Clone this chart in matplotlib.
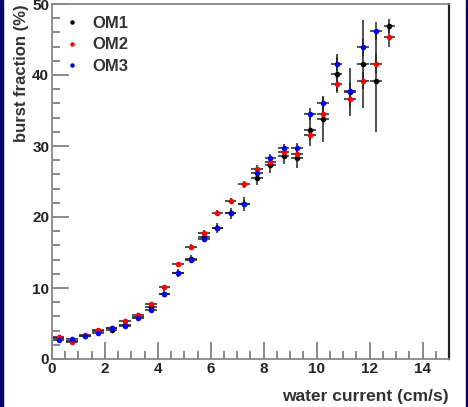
import numpy as np
import matplotlib
matplotlib.use('Agg')
import matplotlib.pyplot as plt
from matplotlib.patches import Rectangle
from matplotlib.lines import Line2D
from matplotlib.ticker import MultipleLocator

plt.rcParams['font.family'] = ['Liberation Sans', 'DejaVu Sans']

# bin centres (cm/s), 0.5 cm/s bins
current = [0.25, 0.75, 1.25, 1.75, 2.25, 2.75, 3.25, 3.75, 4.25, 4.75, 5.25, 5.75, 6.25,
           6.75, 7.25, 7.75, 8.25, 8.75, 9.25, 9.75, 10.25, 10.75, 11.25, 11.75, 12.25, 12.75]
bin_half = 0.22

om1 = [2.9, 2.6, 3.3, 3.9, 4.1, 4.8, 5.9, 7.3, 9.2, 12.1, 14.1, 17.2, 18.4,
       20.5, 21.8, 25.5, 27.3, 28.6, 28.3, 32.3, 33.8, 40.2, 37.6, 41.6, 39.2, 46.9]
om1_err = [0.3, 0.3, 0.3, 0.3, 0.3, 0.4, 0.4, 0.5, 0.5, 0.6, 0.6, 0.7, 0.7,
           0.8, 1.0, 1.0, 1.1, 1.2, 1.4, 2.3, 3.2, 2.8, 3.4, 6.2, 7.2, 1.0]

om2 = [3.1, 2.4, 3.4, 4.1, 4.3, 5.4, 6.2, 7.7, 10.1, 13.4, 15.8, 17.8, 20.6,
       22.3, 24.6, 26.8, 27.8, 29.2, 28.9, 31.6, 34.5, 38.7, 36.6, 39.2, 41.6, 45.4]
om2_err = [0.2, 0.2, 0.2, 0.2, 0.2, 0.2, 0.3, 0.3, 0.3, 0.3, 0.4, 0.4, 0.4,
           0.4, 0.5, 0.5, 0.6, 0.6, 0.7, 0.8, 0.9, 1.0, 1.1, 1.2, 1.3, 1.5]

om3_x = current[:-1]
om3 = [2.7, 2.75, 3.3, 3.7, 4.3, 4.6, 5.8, 6.9, 9.1, 12.1, 14.0, 16.9, 18.5,
       20.6, 21.9, 26.2, 28.3, 29.7, 29.7, 34.5, 36.0, 41.6, 37.8, 43.9, 46.2]
om3_err = [0.2, 0.2, 0.2, 0.2, 0.2, 0.2, 0.3, 0.3, 0.3, 0.3, 0.4, 0.4, 0.4,
           0.4, 0.5, 0.5, 0.6, 0.6, 0.7, 0.8, 0.9, 1.0, 1.1, 1.2, 1.3]

fig = plt.figure(figsize=(4.68, 4.07), dpi=100)
ax = fig.add_axes([52/468, 48/407, 397/468, 355/407])

for xs, ys, es, col, lab in [(current, om1, om1_err, 'black', 'OM1'),
                             (current, om2, om2_err, 'red', 'OM2'),
                             (om3_x, om3, om3_err, 'blue', 'OM3')]:
    ax.errorbar(xs, ys, yerr=es, xerr=bin_half, fmt='o', color=col, ms=3.0,
                ecolor='#222222', elinewidth=1.1, capsize=0, label=lab, zorder=3)

ax.set_xlim(0, 15)
ax.set_ylim(0, 50)
ax.xaxis.set_major_locator(MultipleLocator(2))
ax.xaxis.set_minor_locator(MultipleLocator(0.5))
ax.yaxis.set_major_locator(MultipleLocator(10))
ax.yaxis.set_minor_locator(MultipleLocator(2))
ax.tick_params(which='both', direction='in', colors='#777777', labelcolor='#222222',
               width=1.2, labelsize=11)
ax.tick_params(which='major', length=12, pad=2)
ax.tick_params(which='minor', length=6)
for lbl in ax.get_xticklabels() + ax.get_yticklabels():
    lbl.set_fontweight('bold')

for s in ['left', 'bottom', 'top']:
    ax.spines[s].set_color('#888888')
    ax.spines[s].set_linewidth(1.3)
ax.spines['right'].set_color('#222222')
ax.spines['right'].set_linewidth(1.6)

ax.set_xlabel('water current (cm/s)', fontsize=12.5, fontweight='bold', color='#333333')
ax.xaxis.set_label_coords(1.0, -0.085)
ax.xaxis.label.set_ha('right')
ax.set_ylabel('burst fraction (%)', fontsize=12, fontweight='bold', color='#333333')
ax.yaxis.set_label_coords(-0.095, 1.0)
ax.yaxis.label.set_va('top')
ax.yaxis.label.set_ha('right')

hs = [Line2D([], [], marker='o', ls='', color=c, ms=2.2) for c in ['black', 'red', 'blue']]
leg = ax.legend(hs, ['OM1', 'OM2', 'OM3'], loc='upper left', frameon=False,
                prop={'weight': 'bold', 'size': 12}, handlelength=1.0,
                handletextpad=0.7, labelspacing=0.4, borderaxespad=0.3,
                bbox_to_anchor=(0.0, 1.0))
for t in leg.get_texts():
    t.set_color('#333333')

# navy side strips
fig.patches.append(Rectangle((0, 0), 3/468, 1, transform=fig.transFigure,
                             color='#05056a', zorder=0))
fig.patches.append(Rectangle((466/468, 0), 2/468, 1, transform=fig.transFigure,
                             color='#05056a', zorder=0))

fig.savefig('out.png', dpi=100)
